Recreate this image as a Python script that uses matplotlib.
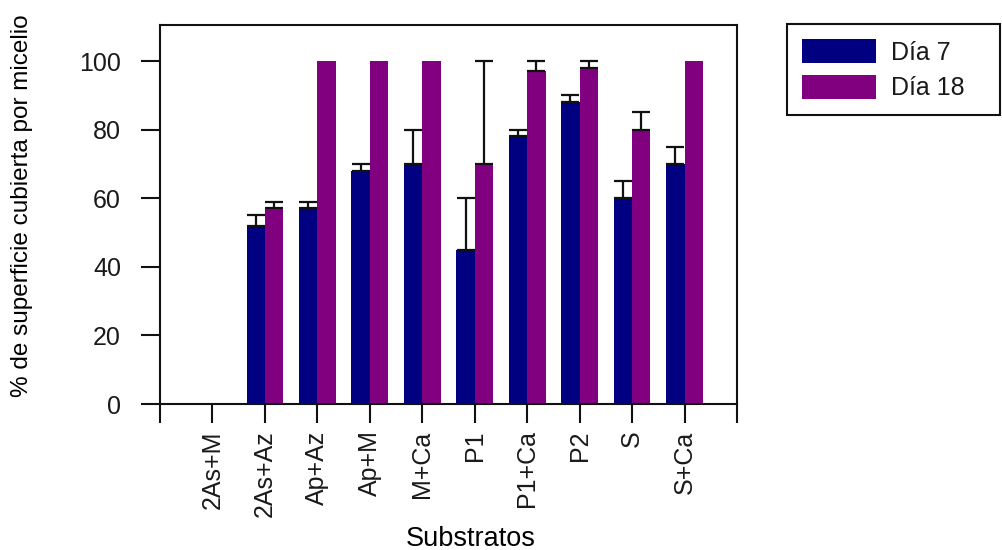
import numpy as np
import matplotlib
matplotlib.use('Agg')
import matplotlib.pyplot as plt

#----Datos----
substratos = ['2As+M', '2As+Az', 'Ap+Az', 'Ap+M', 'M+Ca', 'P1', 'P1+Ca', 'P2', 'S', 'S+Ca']
dia7 = [0, 52, 57, 68, 70, 45, 78, 88, 60, 70]
dia7_err = [0, 3, 2, 2, 10, 15, 2, 2, 5, 5]
dia18 = [0, 57, 100, 100, 100, 70, 97, 98, 80, 100]
dia18_err = [0, 2, 0, 0, 0, 30, 3, 2, 5, 0]

plt.rcParams['font.family'] = ['Liberation Sans', 'DejaVu Sans']
plt.rcParams['text.color'] = '#1a1a1a'

fig = plt.figure(figsize=(10.02, 5.5), dpi=100)
ax = fig.add_axes([160/1002, 1 - 404/550, 577/1002, 379/550])

x = np.arange(1, len(substratos) + 1)
w = 0.35
ax.bar(x - w/2, dia7, w, color='#000080', label='Día 7')
ax.bar(x + w/2, dia18, w, color='#800080', label='Día 18')

# barras de error solo hacia arriba, y solo donde hay error
ekw = dict(fmt='none', ecolor='#111111', elinewidth=1.6, capsize=6.5, capthick=1.6)
for off, vals, errs in [(-w/2, dia7, dia7_err), (w/2, dia18, dia18_err)]:
    v = np.array(vals, dtype=float)
    e = np.array(errs, dtype=float)
    m = e > 0
    ax.errorbar(x[m] + off, v[m], yerr=[np.zeros(m.sum()), e[m]], **ekw)

ax.set_xlim(0, 11)
ax.set_ylim(0, 110.5)
ax.set_yticks([0, 20, 40, 60, 80, 100])
ax.set_xticks(np.arange(0, 12))
ax.set_xticklabels([''] + substratos + [''], rotation=90)

for s in ax.spines.values():
    s.set_linewidth(1.5)
    s.set_color('#111111')
ax.tick_params(axis='both', length=14, width=1.5, color='#111111',
               labelsize=18, labelcolor='#1a1a1a')
ax.tick_params(axis='y', pad=14)
ax.tick_params(axis='x', pad=5)

ax.set_ylabel('% de superficie cubierta por micelio', fontsize=17.5)
ax.yaxis.set_label_coords(-0.220, 0.522)
ax.set_xlabel('Substratos', fontsize=19.5)
ax.xaxis.set_label_coords(0.539, -0.322)

fig.legend(loc='upper left', bbox_to_anchor=(787/1002, 1 - 118/550, 213/1002, 94/550),
           mode='expand', fontsize=18, frameon=True, fancybox=False,
           edgecolor='#111111', framealpha=1, borderaxespad=0,
           handlelength=2.95, handleheight=1.1, handletextpad=0.6,
           labelspacing=0.4, borderpad=0.6)
fig.legends[0].get_frame().set_linewidth(1.5)

fig.savefig('out.png', dpi=100)
